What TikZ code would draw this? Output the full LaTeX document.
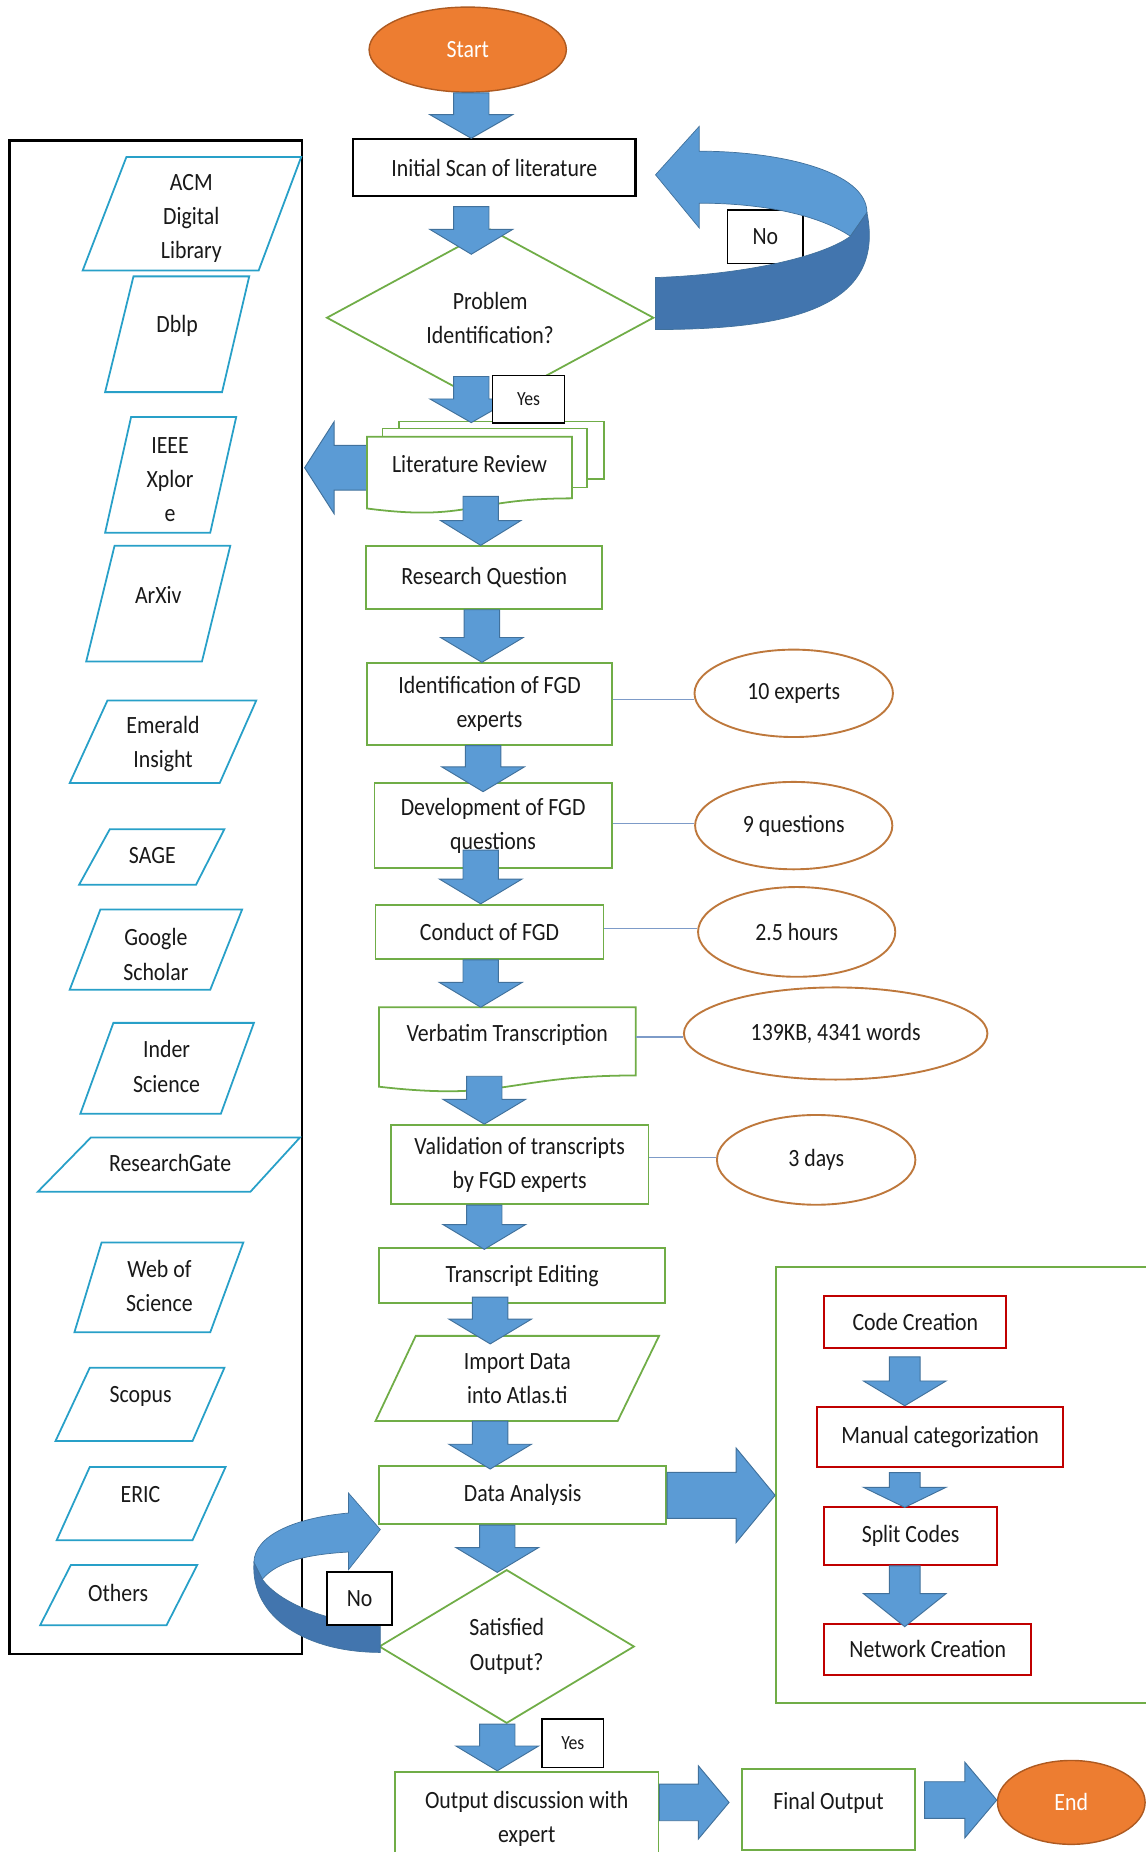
\documentclass[tikz,border=0pt]{standalone}
\usepackage{fontspec}
\setmainfont{Carlito}[FakeStretch=0.88]
\usetikzlibrary{shapes.geometric,calc}

\definecolor{arrowblue}{RGB}{91,155,213}
\definecolor{arrowedge}{RGB}{65,113,156}
\definecolor{arrowdark}{RGB}{66,117,174}
\definecolor{boxgreen}{RGB}{112,173,71}
\definecolor{boxred}{RGB}{192,0,0}
\definecolor{dbcyan}{RGB}{40,160,200}
\definecolor{ovalline}{RGB}{190,120,60}
\definecolor{termfill}{RGB}{237,125,49}
\definecolor{termline}{RGB}{174,90,33}
\definecolor{linkline}{RGB}{125,155,200}
\definecolor{ink}{RGB}{25,25,25}

\tikzset{
  every node/.style={font=\fontsize{21}{29}\selectfont, text=ink, inner sep=0pt, align=center},
  flowarrow/.style={fill=arrowblue, draw=arrowedge, line width=0.8pt},
  procbox/.style={rectangle, draw=boxgreen, line width=1.5pt, fill=white},
  blackbox/.style={rectangle, draw=black, line width=1.8pt, fill=white},
  redbox/.style={rectangle, draw=boxred, line width=1.6pt, fill=white},
  decision/.style={diamond, draw=boxgreen, line width=1.5pt, fill=white},
  terminal/.style={ellipse, draw=termline, line width=1.2pt, fill=termfill, text=white},
  note/.style={ellipse, draw=ovalline, line width=1.6pt, fill=white},
  tag/.style={rectangle, draw=black, line width=1.5pt, fill=white},
  smalltag/.style={tag, font=\fontsize{17}{20}\selectfont},
  dbpara/.style={draw=dbcyan, line width=1.5pt, fill=white},
  docpath/.style={draw=boxgreen, line width=1.5pt, fill=white},
  link/.style={draw=linkline, line width=1pt},
  curvelight/.style={fill=arrowblue, draw=arrowedge, line width=0.6pt},
  curvedark/.style={fill=arrowdark, draw=arrowedge, line width=0.6pt},
}

% block arrow from #1 to tip #2: shaft half width #3, head half width #4, head length #5
\newcommand{\blockarrow}[5]{%
  \coordinate (ba-h) at ($(#2)!#5!(#1)$);
  \filldraw[flowarrow]
    ($(#1)!#3!90:(#2)$) -- ($(ba-h)!#3!90:(#2)$) -- ($(ba-h)!#4!90:(#2)$) -- (#2)
    -- ($(ba-h)!#4!-90:(#2)$) -- ($(ba-h)!#3!-90:(#2)$) -- ($(#1)!#3!-90:(#2)$) -- cycle;}

% downward block arrow between two nodes at abscissa #3
\newcommand{\vflow}[8]{%
  \coordinate (vf-x) at (#3,0);
  \coordinate (vf-s) at ($(#1.south -| vf-x)+(0,#4)$);
  \coordinate (vf-t) at ($(#2.north -| vf-x)+(0,#5)$);
  \blockarrow{vf-s}{vf-t}{#6}{#7}{#8}}

% rightward block arrow between two nodes at ordinate #3
\newcommand{\hflow}[8]{%
  \coordinate (hf-y) at (0,#3);
  \coordinate (hf-s) at ($(#1.east |- hf-y)+(#4,0)$);
  \coordinate (hf-t) at ($(#2.west |- hf-y)+(#5,0)$);
  \blockarrow{hf-s}{hf-t}{#6}{#7}{#8}}

% document outline with a wavy lower edge, hung from the top of a text node
\newcommand{\docshape}[3]{%
  \filldraw[docpath] ($(#1.north west)+#3$) -- ($(#1.north east)+#3$)
    -- ($(#1.north east)+#3+(0,{0.802*#2})$)
    .. controls ($(#1.north)+#3+(0,{0.802*#2})$) and ($(#1.north)+#3+(0,{1.108*#2})$)
    .. ($(#1.north west)+#3+(0,{0.934*#2})$) -- cycle;}

% database source: parallelogram corners and its label
\newcommand{\dbsource}[9]{%
  \filldraw[dbpara] (#2,#4) -- (#3,#4) -- (#6,#7) -- (#5,#7) -- cycle;
  \node (#1) at (#8) {#9};}

\begin{document}
\begin{tikzpicture}[x=1pt,y=-1pt]
\useasboundingbox (0,0) rectangle (970,1568);

% ---------- frames ----------
\node[rectangle, draw=black, line width=1.8pt, minimum width=248, minimum height=1281] (src) at (132,759.5) {};
\node[rectangle, draw=boxgreen, line width=1.5pt, minimum width=323, minimum height=369] (grp) at (818.5,1257.5) {};

% ---------- literature sources ----------
\dbsource{acm}{107}{255}{133}{70}{219}{229}{162,185}{ACM\\Digital\\Library}
\dbsource{dblp}{113}{211}{234}{89}{188}{332}{150,276}{Dblp}
\dbsource{ieee}{111}{200}{353}{89}{178}{451}{144,406}{IEEE\\Xplor\\e}
\dbsource{arxiv}{97}{195}{462}{73}{171}{560}{134,504}{ArXiv}
\dbsource{emerald}{91}{217}{593}{59}{186}{663}{138,630}{Emerald\\Insight}
\dbsource{sage}{93}{190}{702}{67}{166}{749}{129,724}{SAGE}
\dbsource{google}{85}{205}{770}{59}{178}{838}{132,808}{Google\\Scholar}
\dbsource{inder}{96}{215}{866}{68}{187}{943}{141,903}{Inder\\Science}
\dbsource{rg}{77}{254}{963}{32}{212}{1009}{144,985}{ResearchGate}
\dbsource{wos}{86}{206}{1052}{63}{178}{1128}{135,1089}{Web of\\Science}
\dbsource{scopus}{76}{190}{1158}{47}{163}{1220}{119,1182}{Scopus}
\dbsource{eric}{76}{191}{1242}{48}{163}{1304}{119,1265}{ERIC}
\dbsource{others}{60}{167}{1325}{34}{141}{1376}{100,1349}{Others}

% ---------- main flow ----------
\node[terminal, minimum width=167, minimum height=72] (start) at (396,42) {Start};
\node[blackbox, minimum width=239, minimum height=48] (scan) at (418.5,142) {Initial Scan of literature};
\node[decision, aspect=1.85, minimum width=277, minimum height=150] (prob) at (415,269) {Problem\\Identification?};

\node[minimum width=173, minimum height=46] (lit) at (397.5,393) {};
\coordinate (la-y) at (0,396);
\coordinate (la-s) at (lit.west |- la-y);
\coordinate (la-t) at ($(src.east |- la-y)+(1,0)$);
\blockarrow{la-s}{la-t}{19pt}{39pt}{25pt}
\filldraw[docpath] ($(lit.north west)+(27,-13)$) rectangle ($(lit.north east)+(27,36)$);
\filldraw[docpath] ($(lit.north west)+(13,-7)$) rectangle ($(lit.north east)+(13,43)$);
\docshape{lit}{65}{(0,0)}
\node at (lit) {Literature Review};

\node[procbox, minimum width=200, minimum height=53] (rq) at (410,489) {Research Question};
\node[procbox, minimum width=207, minimum height=69] (idf) at (414.5,596) {Identification of FGD\\experts};
\node[procbox, minimum width=201, minimum height=72] (dev) at (417.5,699) {Development of FGD\\questions};
\node[procbox, minimum width=193, minimum height=46] (cond) at (414.5,789) {Conduct of FGD};
\node[minimum width=217, minimum height=46] (verb) at (429.5,876) {};
\docshape{verb}{72}{(0,0)}
\node at (verb) {Verbatim Transcription};
\node[procbox, minimum width=218, minimum height=67] (valid) at (440,986) {Validation of transcripts\\by FGD experts};
\node[procbox, minimum width=242, minimum height=47] (te) at (442,1080) {Transcript Editing};
\filldraw[docpath] (352,1131) -- (558,1131) -- (523,1203) -- (318,1203) -- cycle;
\node[minimum width=170, minimum height=72] (imp) at (438,1167) {Import Data\\into Atlas.ti};
\node[procbox, minimum width=243, minimum height=49] (da) at (442.5,1266) {Data Analysis};
\node[decision, aspect=1.66, minimum width=216, minimum height=130] (sat) at (429,1394) {Satisfied\\Output?};
\node[procbox, minimum width=223, minimum height=80] (out) at (446,1540) {Output discussion with\\expert};
\node[procbox, minimum width=147, minimum height=68] (final) at (701.5,1532) {};
\node at ([yshift=6pt]final.center) {Final Output};
\node[terminal, minimum width=125, minimum height=71] (end) at (907,1526) {End};

% ---------- coding steps ----------
\node[redbox, minimum width=154, minimum height=44] (cc) at (775,1119) {Code Creation};
\node[redbox, minimum width=208, minimum height=51] (mc) at (796,1216.5) {Manual categorization};
\node[redbox, minimum width=146, minimum height=49] (sc) at (771,1300.5) {Split Codes};
\node[redbox, minimum width=175, minimum height=43] (nc) at (785.5,1396.5) {Network Creation};

% ---------- figures attached to steps ----------
\node[note, minimum width=168, minimum height=74] (e1) at (672,587) {10 experts};
\node[note, minimum width=167, minimum height=74] (e2) at (672,699) {9 questions};
\node[note, minimum width=167, minimum height=76] (e3) at (674.5,789) {2.5 hours};
\node[note, minimum width=257, minimum height=78] (e4) at (707.5,875) {139KB, 4341 words};
\node[note, minimum width=168, minimum height=76] (e5) at (691,982) {3 days};
\coordinate (l1) at ([yshift=4pt]idf.east);   \draw[link] (l1) -- (l1 -| e1.west);
\coordinate (l2) at ([yshift=2pt]dev.east);   \draw[link] (l2) -- (l2 -| e2.west);
\coordinate (l3) at ([yshift=3pt]cond.east);  \draw[link] (l3) -- (l3 -| e3.west);
\coordinate (l4) at ([yshift=-2pt]verb.east); \draw[link] (l4) -- (l4 -| e4.west);
\coordinate (l5) at ([yshift=6pt]valid.east); \draw[link] (l5) -- (l5 -| e5.west);

% ---------- block arrows ----------
\vflow{start}{scan}{399}{0}{0}{15pt}{35pt}{20pt}
\vflow{scan}{prob}{399}{8}{22}{15pt}{35pt}{21pt}
\vflow{prob}{lit}{399}{-26}{-12}{15pt}{35pt}{20pt}
\vflow{lit}{rq}{407}{4}{0}{15pt}{34pt}{21pt}
\vflow{rq}{idf}{408}{0}{0}{15pt}{35pt}{21pt}
\vflow{idf}{dev}{409}{0}{8}{15pt}{35pt}{21pt}
\vflow{dev}{cond}{407}{-16}{0}{15pt}{35pt}{21pt}
\vflow{cond}{verb}{407}{0}{0}{15pt}{35pt}{21pt}
\vflow{verb}{valid}{410}{12}{0}{15pt}{35pt}{21pt}
\vflow{valid}{te}{410}{0}{2}{15pt}{35pt}{21pt}
\vflow{te}{imp}{415}{-6}{7}{15pt}{35pt}{21pt}
\vflow{imp}{da}{415}{0}{3}{15pt}{35pt}{21pt}
\vflow{da}{sat}{421}{0}{3}{15pt}{35pt}{21pt}
\vflow{sat}{out}{421}{0}{0}{15pt}{35pt}{21pt}
\hflow{out}{final}{1526}{0}{-10}{15.5pt}{31pt}{26pt}
\hflow{final}{end}{1524}{7}{0}{15.5pt}{32pt}{27pt}
\hflow{da}{grp}{1266}{0}{0}{19.5pt}{40pt}{33pt}
\vflow{cc}{mc}{766}{7}{0}{13pt}{35pt}{21pt}
\vflow{mc}{sc}{766}{4}{1}{13pt}{35pt}{17pt}
\vflow{sc}{nc}{766}{0}{3}{13pt}{35pt}{28pt}

% ---------- loop back from the problem check ----------
\node[tag, minimum width=64, minimum height=45] (no1) at (648,200.5) {No};
\filldraw[curvelight] (592,128) .. controls (660,128) and (734,145) .. (734,180)
  -- (720,200) .. controls (690,180) and (640,172) .. (592,172)
  -- (592,193) -- (555,148) -- (592,107) -- cycle;
\filldraw[curvedark] (555,235) .. controls (640,232) and (700,215) .. (720,200)
  -- (734,180) .. controls (750,260) and (670,279) .. (555,279) -- cycle;
\node[smalltag, minimum width=61, minimum height=40] (yes1) at (447.5,338) {Yes};

% ---------- loop back from the output check ----------
\filldraw[curvelight] (295,1281) .. controls (250,1285) and (215,1300) .. (215,1323)
  -- (222,1337) .. controls (235,1322) and (260,1316) .. (295,1314)
  -- (295,1329) -- (322,1295) -- (295,1264) -- cycle;
\filldraw[curvedark] (215,1323) .. controls (212,1370) and (260,1399) .. (322,1399)
  -- (322,1377) .. controls (270,1372) and (235,1355) .. (222,1337) -- cycle;
\node[tag, minimum width=55, minimum height=45] (no2) at (304.5,1353.5) {No};
\node[smalltag, minimum width=52, minimum height=41] (yes2) at (485,1476) {Yes};

\end{tikzpicture}
\end{document}
